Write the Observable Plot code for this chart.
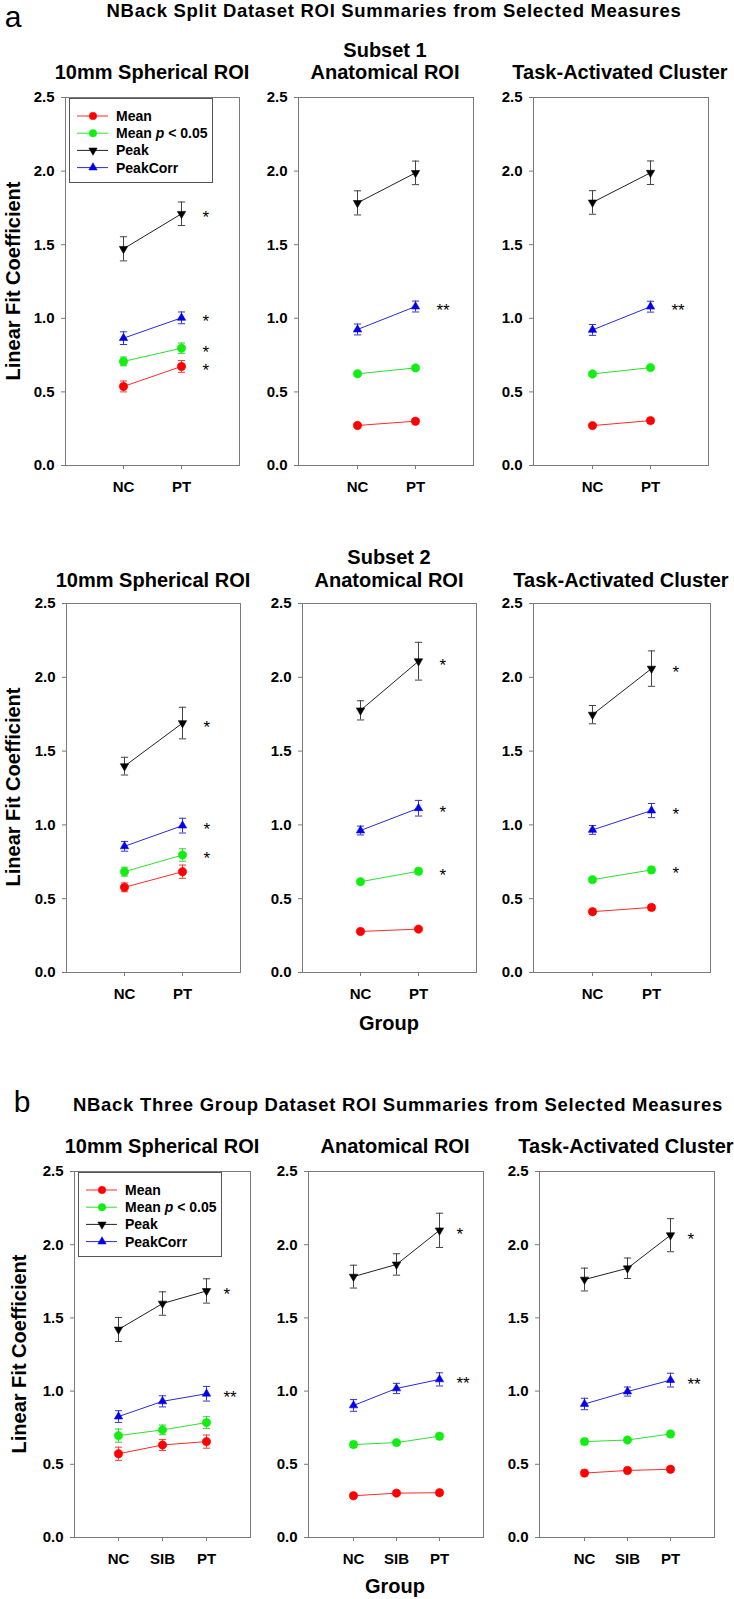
<!DOCTYPE html>
<html><head><meta charset="utf-8">
<script src="https://cdn.jsdelivr.net/npm/d3@7"></script>
<script src="https://cdn.jsdelivr.net/npm/@observablehq/plot@0.6"></script>
<style>
html,body{margin:0;padding:0;background:#fff;overflow:hidden}
#fig{position:relative;width:734px;height:1599px;font-family:"Liberation Sans",Arial,Helvetica,sans-serif;color:#000;overflow:hidden;background:#fff}
.t{position:absolute;white-space:nowrap;font-weight:bold;transform:translate(-50%,-50%);line-height:1}
.panel{position:absolute;overflow:visible}
</style></head><body><div id="fig"></div><script>
// ---------- data ----------
const groups2 = ["NC", "PT"];
const groups3 = ["NC", "SIB", "PT"];
const measures = ["Mean", "Mean p < 0.05", "Peak", "PeakCorr"];
const yTicks = [0, 0.5, 1.0, 1.5, 2.0, 2.5];

// order of rows in each array: Mean, Mean p<0.05, Peak, PeakCorr
const a1SphMeans = [[0.537, 0.673], [0.707, 0.797], [1.472, 1.710], [0.865, 1.003]];
const a1SphErrs  = [[0.037, 0.040], [0.030, 0.035], [0.082, 0.080], [0.043, 0.040]];
const a1SphStars = ["*", "*", "*", "*"];

const a1AnaMeans = [[0.272, 0.301], [0.623, 0.663], [1.784, 1.988], [0.924, 1.080]];
const a1AnaErrs  = [[0.013, 0.018], [0.015, 0.015], [0.082, 0.080], [0.037, 0.037]];
const a1AnaStars = ["", "", "", "**"];

const a1TaskMeans = [[0.271, 0.305], [0.622, 0.665], [1.787, 1.989], [0.921, 1.079]];
const a1TaskErrs  = [[0.012, 0.018], [0.015, 0.015], [0.080, 0.080], [0.037, 0.037]];
const a1TaskStars = ["", "", "", "**"];

const a2SphMeans = [[0.577, 0.683], [0.683, 0.796], [1.398, 1.690], [0.855, 0.995]];
const a2SphErrs  = [[0.030, 0.045], [0.030, 0.042], [0.060, 0.107], [0.033, 0.050]];
const a2SphStars = ["", "*", "*", "*"];

const a2AnaMeans = [[0.278, 0.294], [0.615, 0.686], [1.776, 2.109], [0.962, 1.113]];
const a2AnaErrs  = [[0.012, 0.012], [0.015, 0.020], [0.065, 0.128], [0.030, 0.053]];
const a2AnaStars = ["", "*", "*", "*"];

const a2TaskMeans = [[0.412, 0.441], [0.629, 0.695], [1.747, 2.059], [0.966, 1.097]];
const a2TaskErrs  = [[0.018, 0.018], [0.015, 0.020], [0.062, 0.120], [0.030, 0.048]];
const a2TaskStars = ["", "*", "*", "*"];

const bSphMeans = [[0.572, 0.632, 0.655], [0.696, 0.735, 0.785], [1.421, 1.598, 1.684], [0.826, 0.930, 0.982]];
const bSphErrs  = [[0.045, 0.038, 0.045], [0.045, 0.033, 0.040], [0.082, 0.080, 0.083], [0.040, 0.038, 0.050]];
const bSphStars = ["", "", "*", "**"];

const bAnaMeans = [[0.285, 0.303, 0.306], [0.635, 0.648, 0.692], [1.782, 1.865, 2.098], [0.902, 1.018, 1.080]];
const bAnaErrs  = [[0.018, 0.015, 0.018], [0.020, 0.015, 0.020], [0.078, 0.073, 0.117], [0.040, 0.035, 0.045]];
const bAnaStars = ["", "", "*", "**"];

const bTaskMeans = [[0.440, 0.458, 0.466], [0.655, 0.666, 0.707], [1.762, 1.839, 2.065], [0.912, 0.997, 1.075]];
const bTaskErrs  = [[0.020, 0.015, 0.018], [0.020, 0.015, 0.020], [0.078, 0.070, 0.113], [0.039, 0.031, 0.047]];
const bTaskStars = ["", "", "*", "**"];

// ---------- styles ----------
const FONT = '"Liberation Sans", Arial, Helvetica, sans-serif';
const lineColors = ["#ff2a2a", "#2ee02e", "#222222", "#2a2ad8"];
const markColors = ["#ff0000", "#11ee11", "#000000", "#0000ee"];
const errColors  = ["#e84040", "#3ccc3c", "#444444", "#3535c8"];
const sqrt3 = Math.sqrt(3);
const triDown = {draw(ctx, size) { const y = Math.sqrt(size / (sqrt3 * 3)); ctx.moveTo(0, 2 * y); ctx.lineTo(-sqrt3 * y, -y); ctx.lineTo(sqrt3 * y, -y); ctx.closePath(); }};
const triUp = {draw(ctx, size) { const y = Math.sqrt(size / (sqrt3 * 3)); ctx.moveTo(0, -2 * y); ctx.lineTo(-sqrt3 * y, y); ctx.lineTo(sqrt3 * y, y); ctx.closePath(); }};
const capSym = {draw(ctx, size) { const w = 3.6; ctx.moveTo(-w, 0); ctx.lineTo(w, 0); }};
const symbols = ["circle", "circle", triDown, triUp];
const radii = [4.2, 4.2, 3.1, 3.1];

const fig = document.getElementById("fig");

function text(str, x, y, size, extra = "") {
  const d = document.createElement("div");
  d.className = "t";
  d.style.left = x + "px"; d.style.top = y + "px"; d.style.fontSize = size + "px";
  if (extra) d.style.cssText += extra;
  d.innerHTML = str;
  fig.appendChild(d);
  return d;
}

function panel(p) {
  const {groups, means, errs, stars, frame, axis, starDx} = p;
  const mL = 60, mR = 8, mT = 6, mB = 40;
  const [fL, fR] = frame, [aT, aB] = axis;
  const width = fR - fL + mL + mR, height = aB - aT + mT + mB;
  const marks = [
    Plot.frame({stroke: "#7a7a7a", strokeWidth: 1}),
    Plot.axisY({ticks: yTicks, tickFormat: d3.format(".1f"), tickSize: 4, tickPadding: 7, stroke: "#7a7a7a", fill: "#000", label: null}),
    Plot.axisX({tickSize: 4, tickPadding: 12, stroke: "#7a7a7a", fill: "#000", label: null})
  ];
  const last = groups[groups.length - 1];
  const starRows = [];
  measures.forEach((m, i) => {
    const rows = groups.map((g, j) => ({g, v: means[i][j], e: errs[i][j]}));
    marks.push(Plot.line(rows, {x: "g", y: "v", stroke: lineColors[i], strokeWidth: 1}));
    marks.push(Plot.ruleX(rows, {x: "g", y1: d => d.v - d.e, y2: d => d.v + d.e, stroke: errColors[i], strokeWidth: 1}));
    marks.push(Plot.dot(rows, {x: "g", y: d => d.v + d.e, symbol: capSym, stroke: errColors[i], fill: "none", r: 3, strokeWidth: 1}));
    marks.push(Plot.dot(rows, {x: "g", y: d => d.v - d.e, symbol: capSym, stroke: errColors[i], fill: "none", r: 3, strokeWidth: 1}));
    marks.push(Plot.dot(rows, {x: "g", y: "v", symbol: symbols[i], fill: markColors[i], stroke: markColors[i], strokeWidth: 0.6, r: radii[i]}));
    if (stars[i]) starRows.push({g: last, v: means[i][groups.length - 1], s: stars[i]});
  });
  marks.push(Plot.text(starRows, {x: "g", y: "v", text: "s", textAnchor: "start", dx: starDx, dy: 4, fontSize: 17, fontWeight: "normal", fill: "#000"}));
  const svg = Plot.plot({
    width, height, marginLeft: mL, marginRight: mR, marginTop: mT, marginBottom: mB,
    style: {fontFamily: FONT, fontSize: "15px", fontWeight: "bold", color: "#000", background: "transparent", overflow: "visible"},
    x: {type: "point", domain: groups, padding: 1, label: null},
    y: {domain: [0, 2.5], label: null},
    marks
  });
  svg.classList.add("panel");
  svg.style.left = (fL - mL) + "px";
  svg.style.top = (aT - mT) + "px";
  fig.appendChild(svg);
}

function legend(left, top) {
  const svg = d3.create("svg").attr("width", 145).attr("height", 86)
    .style("position", "absolute").style("left", left + "px").style("top", top + "px")
    .style("font-family", FONT).style("font-weight", "bold").style("font-size", "14px");
  svg.append("rect").attr("x", 0.5).attr("y", 0.5).attr("width", 143).attr("height", 84)
    .attr("fill", "#fff").attr("stroke", "#555").attr("stroke-width", 1);
  measures.forEach((m, i) => {
    const y = 18 + i * 17.2;
    svg.append("line").attr("x1", 8).attr("x2", 39).attr("y1", y).attr("y2", y).attr("stroke", lineColors[i]).attr("stroke-width", 1);
    const sym = d3.symbol().type(symbols[i] === "circle" ? d3.symbolCircle : symbols[i]).size(Math.PI * radii[i] * radii[i] * (i < 2 ? 0.8 : 1));
    svg.append("path").attr("d", sym()).attr("transform", `translate(24,${y})`).attr("fill", markColors[i]).attr("stroke", markColors[i]).attr("stroke-width", 0.5);
    const t = svg.append("text").attr("x", 47).attr("y", y + 5).attr("fill", "#000");
    if (m === "Mean p < 0.05") {
      t.append("tspan").text("Mean ");
      t.append("tspan").attr("font-style", "italic").text("p");
      t.append("tspan").text(" < 0.05");
    } else t.text(m);
  });
  fig.appendChild(svg.node());
}

// ---------- layout ----------
// panel a
text("a", 13, 17, 30, "font-weight:normal");
text("NBack Split Dataset ROI Summaries from Selected Measures", 394, 11, 18.5, "letter-spacing:0.7px");

text("10mm Spherical ROI", 152, 72, 20);
text("Subset 1", 385, 50, 20);
text("Anatomical ROI", 385, 72, 20);
text("Task-Activated Cluster", 620, 72, 20);
text("Linear Fit Coefficient", 13, 281, 20, "transform:translate(-50%,-50%) rotate(-90deg)");

panel({groups: groups2, means: a1SphMeans, errs: a1SphErrs, stars: a1SphStars, frame: [65, 239], axis: [97, 465], starDx: 21});
panel({groups: groups2, means: a1AnaMeans, errs: a1AnaErrs, stars: a1AnaStars, frame: [298, 473], axis: [97, 465], starDx: 21});
panel({groups: groups2, means: a1TaskMeans, errs: a1TaskErrs, stars: a1TaskStars, frame: [533, 708], axis: [97, 465], starDx: 21});
legend(69, 98);

text("10mm Spherical ROI", 153, 580, 20);
text("Subset 2", 389, 557, 20);
text("Anatomical ROI", 389, 580, 20);
text("Task-Activated Cluster", 621, 580, 20);
text("Linear Fit Coefficient", 13, 787, 20, "transform:translate(-50%,-50%) rotate(-90deg)");

panel({groups: groups2, means: a2SphMeans, errs: a2SphErrs, stars: a2SphStars, frame: [66, 240], axis: [603, 972], starDx: 21});
panel({groups: groups2, means: a2AnaMeans, errs: a2AnaErrs, stars: a2AnaStars, frame: [302, 476], axis: [603, 972], starDx: 21});
panel({groups: groups2, means: a2TaskMeans, errs: a2TaskErrs, stars: a2TaskStars, frame: [533, 710], axis: [603, 972], starDx: 21});
text("Group", 389, 1023, 20);

// panel b
text("b", 22, 1102, 30, "font-weight:normal");
text("NBack Three Group Dataset ROI Summaries from Selected Measures", 398, 1105, 18.5, "letter-spacing:0.7px");
text("10mm Spherical ROI", 162, 1146, 20);
text("Anatomical ROI", 395, 1146, 20);
text("Task-Activated Cluster", 626, 1146, 20);
text("Linear Fit Coefficient", 19, 1354, 20, "transform:translate(-50%,-50%) rotate(-90deg)");

panel({groups: groups3, means: bSphMeans, errs: bSphErrs, stars: bSphStars, frame: [74, 250], axis: [1171, 1537], starDx: 17});
panel({groups: groups3, means: bAnaMeans, errs: bAnaErrs, stars: bAnaStars, frame: [308, 483], axis: [1171, 1537], starDx: 17});
panel({groups: groups3, means: bTaskMeans, errs: bTaskErrs, stars: bTaskStars, frame: [539, 714], axis: [1171, 1537], starDx: 17});
legend(78, 1172);
text("Group", 395, 1586, 20);
</script></body></html>
